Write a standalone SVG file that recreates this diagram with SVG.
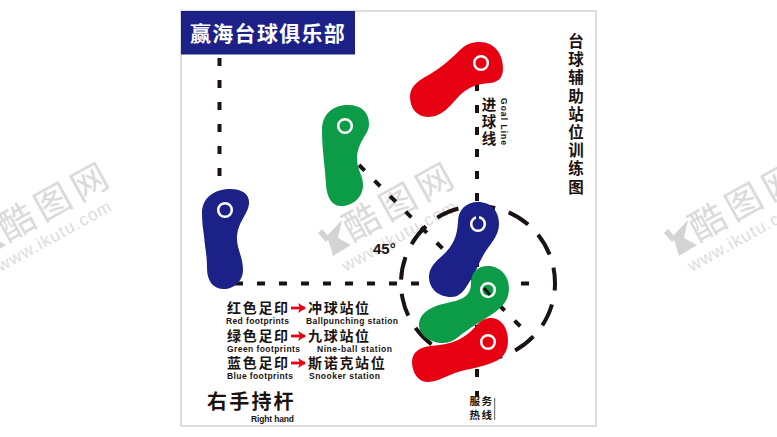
<svg xmlns="http://www.w3.org/2000/svg" xmlns:xlink="http://www.w3.org/1999/xlink" width="777" height="437" viewBox="0 0 777 437">
<style>
text{font-family:"Noto Sans CJK SC","Liberation Sans",sans-serif;fill:#1a1311}
.cn{font-weight:700;font-size:14px;letter-spacing:1.7px}
.en{font-family:"Liberation Sans",sans-serif;font-weight:700;font-size:8.5px}
.dash{fill:none;stroke:#1a1311;stroke-width:4}
.eye{fill:none;stroke:#fff;stroke-width:2.5}
.arr{stroke:#e60012;stroke-width:2.8;marker-end:url(#ah);fill:none}
.wmt{fill:#dadada;font-weight:400;font-size:36px;letter-spacing:5.5px}
.wmu{fill:#dcdcdc;font-family:"Liberation Sans",sans-serif;font-size:17px;letter-spacing:1.2px}
</style>
<defs>
<marker id="ah" markerUnits="userSpaceOnUse" markerWidth="8" markerHeight="10" refX="7" refY="5" orient="auto"><path d="M0,0 L8,5 L0,10 L2,5Z" fill="#e60012"/></marker>
<g id="wm">
<polygon points="342,220 327,236 333,256 351,245 338,238" fill="#d4d4d4"/>
<polygon points="318,233 322,229 330,238 326,242" fill="#d4d4d4"/>
<g transform="translate(362,223) rotate(-29)">
<text class="wmt" x="-18" y="12">酷图网</text>
<text class="wmu" x="-38" y="35">www.ikutu.com</text>
</g>
</g>
</defs>
<rect width="777" height="437" fill="#fff"/>
<g id="watermarks">
<use xlink:href="#wm" href="#wm" x="-345"/>
<use xlink:href="#wm" href="#wm"/>
<use xlink:href="#wm" href="#wm" x="346"/>
</g>
<rect id="frame" x="181" y="11" width="415" height="415" fill="none" stroke="#c8c8c8" stroke-width="1.2"/>
<g id="connectors">
<line class="dash" x1="219.5" y1="58" x2="219.5" y2="180" stroke-dasharray="8 14"/>
<line class="dash" x1="235" y1="283.5" x2="530" y2="283.5" stroke-dasharray="8 14"/>
<line class="dash" x1="477" y1="83" x2="477" y2="397" stroke-dasharray="8 14"/>
<line class="dash" x1="359" y1="165" x2="522" y2="328" stroke-dasharray="8 14"/>
<circle class="dash" cx="478" cy="283" r="77" stroke-dasharray="23 14.2" transform="rotate(-11.5 478 283)"/>
</g>
<g id="header"><rect x="181" y="11" width="174" height="43.500" fill="#1c2188"/>
<text x="190" y="40.500" font-size="21" font-weight="700" letter-spacing="1.300" style="fill:#fff">赢海台球俱乐部</text></g>
<g id="foot-blue-left"><path fill="#1c2188" d="M202,213 C202,198 214,189 230,189 C242,189 250,194 249,204 C248,214 238,222 237,236 C236,248 243,256 243,270 C243,281 234,289 224,289 C213,289 207,281 207,268 C207,255 205,248 204,236 C203,228 202,222 202,213Z"/><circle class="eye" cx="225" cy="210" r="6.800"/></g>
<g id="foot-green-left"><path fill="#0c9c47" d="M322,130 C322,115 332,105 348,105 C362,105 369,113 369,124 C369,135 358,140 357,158 C357,170 363,175 363,185 C363,198 352,206 341,206 C332,206 327,198 326,185 C325,165 322,150 322,130Z"/><circle class="eye" cx="345" cy="126" r="6.800"/></g>
<g id="foot-red-top"><path fill="#e60012" d="M460,50 C466,44 472,42 480,42 C494,42 503,54 503,68 C503,76 500,82 490,83 C478,84 470,86 460,95 C450,106 442,117 428,117 C417,117 410,108 410,97 C410,88 416,82 425,77 C440,69 450,60 460,50Z"/><circle class="eye" cx="481" cy="63" r="6.800"/></g>
<g id="foot-blue-main"><path fill="#1c2188" d="M458,222 C458,210 466,202 478,202 C491,202 499,211 499,224 C499,236 490,244 484,254 C478,264 476,272 470,281 C464,291 460,297 451,297 C438,297 429,288 429,277 C429,268 435,262 442,256 C454,245 457,236 458,222Z"/><circle class="eye" cx="478" cy="224" r="6.800"/><line x1="477.500" y1="216" x2="477.500" y2="225" stroke="#1c2188" stroke-width="3"/></g>
<g id="foot-green-main"><path fill="#0c9c47" d="M471,283 C471,272 478,266 488,266 C500,266 509,276 509,288 C509,300 503,306 494,313 C480,322 470,328 462,334 C455,340 450,343 443,343 C430,343 419,335 419,325 C419,314 430,307 443,304 C460,300 471,298 471,283Z"/><circle class="eye" cx="488" cy="290" r="6.800"/><line x1="484" y1="288" x2="490" y2="295" stroke="#1a1311" stroke-width="3"/></g>
<g id="foot-red-main"><path fill="#e60012" d="M476,326 C481,320 486,318 491,318 C501,318 508,328 508,340 C508,352 503,358 494,362 C480,368 470,368 455,373 C445,377 436,382 427,382 C418,382 412,372 412,362 C412,352 420,347 431,346 C455,344 465,338 476,326Z"/><circle class="eye" cx="488" cy="342" r="6.800"/></g>
<g id="label-title"><text x="576 576 576 576 576 576 576 576 576" y="47 65.200 83.400 101.600 119.800 138 156.200 174.400 192.600" text-anchor="middle" font-size="15.500" font-weight="700">台球辅助站位训练图</text></g>
<g id="label-goal"><text x="489 489 489" y="110 127 144" text-anchor="middle" font-size="14.500" font-weight="700">进球线</text>
<text class="en" transform="translate(500.500,98) rotate(90)" textLength="47">Goal Line</text></g>
<text id="label-45" x="373" y="254" font-size="15" font-weight="700" style="font-family:'Liberation Sans',sans-serif">45°</text>
<g id="label-service"><text x="469.500" y="405" font-size="10.500" font-weight="700" letter-spacing="1.500">服务</text><text x="469.500" y="418.500" font-size="10.500" font-weight="700" letter-spacing="1.500">热线</text><line x1="494.700" y1="398" x2="494.700" y2="420" stroke="#1a1311" stroke-width="0.700"/></g>
<g id="legend-red"><text class="cn" x="227" y="312.500">红色足印</text><line class="arr" x1="291" y1="308" x2="305" y2="308"/><text class="cn" x="308" y="312.500">冲球站位</text><text class="en" x="226" y="324" textLength="63">Red footprints</text><text class="en" x="306" y="324" textLength="92">Ballpunching station</text></g>
<g id="legend-green"><text class="cn" x="227" y="340.500">绿色足印</text><line class="arr" x1="291" y1="336" x2="305" y2="336"/><text class="cn" x="308" y="340.500">九球站位</text><text class="en" x="227" y="352" textLength="73">Green footprints</text><text class="en" x="317" y="352" textLength="75">Nine-ball station</text></g>
<g id="legend-blue"><text class="cn" x="227" y="367.500">蓝色足印</text><line class="arr" x1="291" y1="363" x2="305" y2="363"/><text class="cn" x="308" y="367.500">斯诺克站位</text><text class="en" x="227" y="379" textLength="66">Blue footprints</text><text class="en" x="309" y="379" textLength="71">Snooker station</text></g>
<g id="label-hand"><text x="207" y="409" font-size="20" font-weight="700" letter-spacing="2.200">右手持杆</text><text class="en" x="251" y="422" textLength="43">Right hand</text></g>
</svg>
